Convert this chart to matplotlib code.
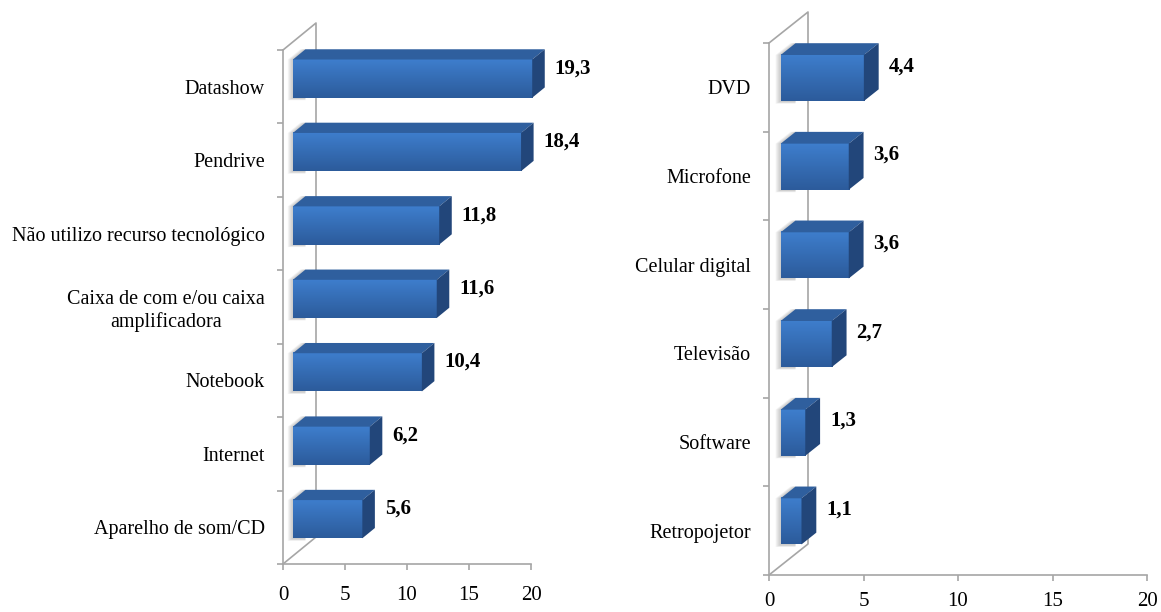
import numpy as np
import matplotlib.pyplot as plt
from matplotlib.patches import Polygon

plt.rcParams['font.family'] = ['Liberation Serif', 'DejaVu Serif']

# Figure size in pixels
W, H, DPI = 1161, 612, 100

# Data
left_labels = ["Datashow", "Pendrive", "Não utilizo recurso tecnológico",
               "Caixa de com e/ou caixa\namplificadora", "Notebook",
               "Internet", "Aparelho de som/CD"]
left_values = [19.3, 18.4, 11.8, 11.6, 10.4, 6.2, 5.6]

right_labels = ["DVD", "Microfone", "Celular digital", "Televisão",
                "Software", "Retropojetor"]
right_values = [4.4, 3.6, 3.6, 2.7, 1.3, 1.1]

x_ticks = [0, 5, 10, 15, 20]
X_MAX = 20

# Colours
FRONT_TOP = np.array([0x3e, 0x7e, 0xcd]) / 255
FRONT_BOT = np.array([0x2c, 0x5b, 0x9b]) / 255
TOP_COLOR = '#2f5f9e'
SIDE_COLOR = '#22467a'
AXIS_COLOR = '#a6a6a6'

# Depth of the bars as a fraction of the wall depth
BAR_FRONT = 0.30
BAR_BACK = 0.68
BAR_HEIGHT = 0.52


def draw_panel(fig, box, wall, labels, values, xpad):
    """box = (x0, x1, y_bottom, y_top) in pixels from the top-left corner,
    wall = (dx, dy) pixel offset of the back wall."""
    x0, x1, yb, yt = box
    n = len(values)
    ax = fig.add_axes([x0 / W, 1 - yb / H, (x1 - x0) / W, (yb - yt) / H])

    kx = (x1 - x0) / X_MAX      # px per value unit
    ky = (yb - yt) / n          # px per category
    ddx = wall[0] / kx          # wall depth in data units
    ddy = wall[1] / ky

    # side wall and floor edge
    ax.plot([0, ddx, ddx, 0], [n, n + ddy, ddy, 0], color=AXIS_COLOR,
            lw=1.2, clip_on=False, zorder=1)

    grad = np.linspace(0, 1, 64)[:, None, None]
    grad_img = FRONT_TOP * (1 - grad) + FRONT_BOT * grad

    for i, v in enumerate(values):
        yc = n - i - 0.5
        h = BAR_HEIGHT / 2
        fx = BAR_FRONT * ddx
        fy = BAR_FRONT * ddy
        bx = BAR_BACK * ddx
        by = BAR_BACK * ddy
        y_lo, y_hi = yc - h + fy, yc + h + fy
        x_lo, x_hi = fx, v + fx
        sx, sy = bx - fx, by - fy

        # soft shadow behind the left end of the bar
        for k in range(5):
            off = (5 - k) / kx
            down = (2.5 - k * 0.4) / ky
            shadow = Polygon([(x_lo - off, y_lo - down), (x_lo - off, y_hi),
                              (x_lo - off + sx, y_hi + sy),
                              (x_lo + sx, y_hi + sy),
                              (x_lo + sx, y_lo - down)],
                             closed=True, fc='#7f7f7f', ec='none', alpha=0.09,
                             zorder=2, clip_on=False)
            ax.add_patch(shadow)

        # front face with vertical gradient
        ax.imshow(grad_img, extent=[x_lo, x_hi, y_lo, y_hi], aspect='auto',
                  interpolation='bilinear', zorder=3, clip_on=False)
        # top face
        top = Polygon([(x_lo, y_hi), (x_hi, y_hi),
                       (x_hi + sx, y_hi + sy), (x_lo + sx, y_hi + sy)],
                      closed=True, fc=TOP_COLOR, ec='none', zorder=3,
                      clip_on=False)
        ax.add_patch(top)
        # right end face
        side = Polygon([(x_hi, y_lo), (x_hi, y_hi),
                        (x_hi + sx, y_hi + sy), (x_hi + sx, y_lo + sy)],
                       closed=True, fc=SIDE_COLOR, ec='none', zorder=3,
                       clip_on=False)
        ax.add_patch(side)

        # value label
        ax.annotate(f"{v:.1f}".replace('.', ','),
                    xy=(v + bx, yc + by), xytext=(10 / DPI * 72, 0),
                    textcoords='offset points', ha='left', va='center',
                    fontsize=15, fontweight='bold', zorder=5,
                    annotation_clip=False)

    ax.set_xlim(0, X_MAX)
    ax.set_ylim(0, n)
    ax.set_xticks(x_ticks)
    ax.set_xticklabels([str(t) for t in x_ticks], fontsize=15)
    ax.set_yticks(range(n + 1))
    ax.set_yticklabels([])
    ax.set_yticks([n - i - 0.5 for i in range(n)], minor=True)
    ax.set_yticklabels(labels, minor=True, fontsize=14.5, ma='center')
    ax.tick_params(axis='y', which='minor', length=0, pad=13)
    ax.tick_params(axis='both', which='major', length=4, color=AXIS_COLOR,
                   width=1.2, direction='out')
    ax.tick_params(axis='x', pad=xpad)
    for s in ['top', 'right']:
        ax.spines[s].set_visible(False)
    for s in ['left', 'bottom']:
        ax.spines[s].set_color(AXIS_COLOR)
        ax.spines[s].set_linewidth(1.2)
        ax.spines[s].set_zorder(1)
    ax.patch.set_alpha(0)
    return ax


fig = plt.figure(figsize=(W / DPI, H / DPI), dpi=DPI)
draw_panel(fig, (283, 531, 564, 50), (33, 27), left_labels, left_values, 12)
draw_panel(fig, (769, 1147, 575, 43), (39, 31), right_labels, right_values, 8)
fig.savefig('out.png', dpi=DPI)
